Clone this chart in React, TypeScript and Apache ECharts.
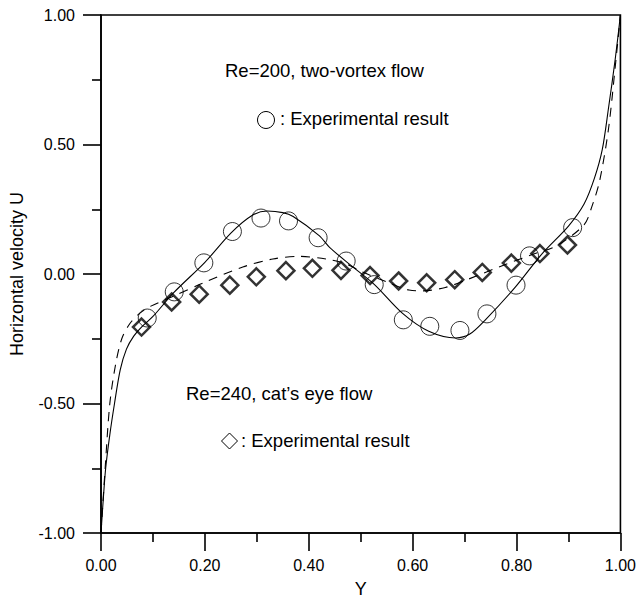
import React, { useEffect, useRef } from "react";
import * as echarts from "echarts";

// Solid curve: Re=200, two-vortex flow (computed)
const solidX = [0, 0.004, 0.009, 0.017, 0.026, 0.037, 0.049, 0.063, 0.078, 0.1, 0.14, 0.2, 0.25, 0.29, 0.32, 0.35, 0.37, 0.42, 0.44, 0.48, 0.526, 0.58, 0.631, 0.683, 0.71, 0.74, 0.798, 0.849, 0.9, 0.93, 0.95, 0.965, 0.977, 0.99, 1];
const solidY = [-1, -0.88, -0.75, -0.62, -0.5, -0.37, -0.29, -0.24, -0.205, -0.164, -0.072, 0.045, 0.158, 0.225, 0.243, 0.237, 0.222, 0.148, 0.103, 0.035, -0.04, -0.151, -0.221, -0.247, -0.232, -0.177, -0.05, 0.078, 0.185, 0.27, 0.37, 0.48, 0.64, 0.83, 1];

// Dashed curve: Re=240, cat's eye flow (computed)
const dashX = [0, 0.008, 0.017, 0.028, 0.04, 0.056, 0.075, 0.094, 0.14, 0.196, 0.273, 0.331, 0.382, 0.433, 0.472, 0.503, 0.55, 0.593, 0.62, 0.663, 0.702, 0.77, 0.83, 0.878, 0.93, 0.945, 0.96, 0.977, 0.99, 1];
const dashY = [-1, -0.75, -0.5, -0.35, -0.25, -0.19, -0.151, -0.126, -0.085, -0.035, 0.027, 0.058, 0.068, 0.058, 0.039, 0.008, -0.03, -0.062, -0.065, -0.052, -0.024, 0.03, 0.075, 0.11, 0.19, 0.26, 0.36, 0.56, 0.8, 1];

// Experimental result, Re=200 (circles)
const circleX = [0.089, 0.141, 0.198, 0.253, 0.308, 0.361, 0.418, 0.472, 0.526, 0.582, 0.633, 0.691, 0.743, 0.799, 0.825, 0.908];
const circleY = [-0.17, -0.069, 0.043, 0.164, 0.216, 0.205, 0.14, 0.05, -0.041, -0.177, -0.202, -0.218, -0.154, -0.043, 0.07, 0.179];

// Experimental result, Re=240 (diamonds)
const diamondX = [0.078, 0.136, 0.189, 0.248, 0.299, 0.356, 0.407, 0.462, 0.518, 0.573, 0.627, 0.681, 0.734, 0.79, 0.845, 0.898];
const diamondY = [-0.205, -0.108, -0.078, -0.043, -0.011, 0.013, 0.022, 0.014, -0.006, -0.027, -0.034, -0.022, 0.006, 0.042, 0.079, 0.112];

const xTitle = "Y";
const yTitle = "Horizontal velocity U";
const note1 = "Re=200, two-vortex flow";
const note2 = "Re=240, cat\u2019s eye flow";
const legendText = ": Experimental result";

const FONT = "'Liberation Sans', Arial, Helvetica, sans-serif";

const zip = (xs: number[], ys: number[]) => xs.map((x, i) => [x, ys[i]]);

export default function App() {
  const ref = useRef<HTMLDivElement>(null);
  useEffect(() => {
    if (!ref.current) return;
    const chart = echarts.init(ref.current, null, { renderer: "svg" });
    const axisCommon = {
      axisLine: { onZero: false, lineStyle: { color: "#000", width: 1.6 } },
      axisTick: { show: true, inside: false, length: 18, lineStyle: { color: "#000", width: 1.6 } },
      minorTick: { show: true, splitNumber: 2, length: 9, lineStyle: { color: "#000", width: 1.6 } },
      splitLine: { show: false },
      nameTextStyle: { color: "#000", fontSize: 18, fontFamily: FONT },
    };
    chart.setOption({
      animation: false,
      backgroundColor: "#fff",
      grid: {
        left: 101,
        right: 17,
        top: 15,
        bottom: 64,
        show: true,
        borderColor: "#000",
        borderWidth: 1.6,
        backgroundColor: "transparent",
      },
      xAxis: {
        type: "value",
        min: 0,
        max: 1,
        interval: 0.2,
        name: xTitle,
        nameLocation: "middle",
        nameGap: 47,
        ...axisCommon,
        axisLabel: {
          color: "#000",
          fontSize: 16,
          fontFamily: FONT,
          margin: 24,
          formatter: (v: number) => v.toFixed(2),
        },
      },
      yAxis: {
        type: "value",
        min: -1,
        max: 1,
        interval: 0.5,
        name: yTitle,
        nameLocation: "middle",
        nameGap: 75,
        ...axisCommon,
        axisLabel: {
          color: "#000",
          fontSize: 16,
          fontFamily: FONT,
          margin: 26,
          formatter: (v: number) => v.toFixed(2),
        },
      },
      series: [
        {
          type: "line",
          data: zip(solidX, solidY),
          smooth: 0.3,
          showSymbol: false,
          lineStyle: { color: "#000", width: 1.1 },
          z: 2,
        },
        {
          type: "line",
          data: zip(dashX, dashY),
          smooth: 0.3,
          showSymbol: false,
          lineStyle: { color: "#000", width: 1.1, type: [9, 7] },
          z: 2,
        },
        {
          type: "scatter",
          data: zip(circleX, circleY),
          symbol: "circle",
          symbolSize: 18,
          itemStyle: { color: "transparent", borderColor: "#000", borderWidth: 1 },
          z: 3,
        },
        {
          type: "scatter",
          data: zip(diamondX, diamondY),
          symbol: "diamond",
          symbolSize: 17,
          itemStyle: { color: "transparent", borderColor: "#000", borderWidth: 2.5 },
          z: 4,
        },
      ],
      graphic: [
        {
          type: "text",
          left: 225,
          top: 61,
          style: { text: note1, fontSize: 18.5, fontFamily: FONT, fill: "#000" },
        },
        {
          type: "circle",
          shape: { cx: 266, cy: 120, r: 8.5 },
          style: { fill: "transparent", stroke: "#000", lineWidth: 1 },
        },
        {
          type: "text",
          left: 280,
          top: 109,
          style: { text: legendText, fontSize: 18.5, fontFamily: FONT, fill: "#000" },
        },
        {
          type: "text",
          left: 186,
          top: 384,
          style: { text: note2, fontSize: 18.5, fontFamily: FONT, fill: "#000" },
        },
        {
          type: "polygon",
          shape: { points: [[229.5, 433], [237.5, 441], [229.5, 449], [221.5, 441]] },
          style: { fill: "transparent", stroke: "#000", lineWidth: 1 },
        },
        {
          type: "text",
          left: 241,
          top: 431,
          style: { text: legendText, fontSize: 18.5, fontFamily: FONT, fill: "#000" },
        },
      ],
    });
    return () => chart.dispose();
  }, []);
  return (
    <div
      ref={ref}
      style={{ position: "fixed", left: 0, top: 0, width: 639, height: 603, background: "#fff" }}
    />
  );
}
